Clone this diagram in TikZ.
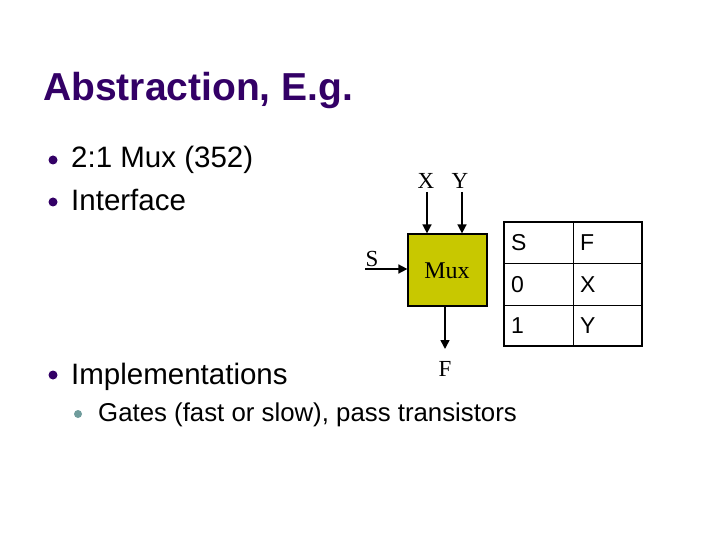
\documentclass[tikz,border=0pt]{standalone}
\usepackage{fontspec}
\setmainfont{Liberation Sans}
\newfontfamily\muxfont{Liberation Serif}
\usetikzlibrary{arrows.meta,positioning}
\definecolor{titlepurple}{HTML}{330066}
\definecolor{muxolive}{HTML}{C8C800}
\definecolor{subteal}{HTML}{6F9C9C}

\begin{document}
\begin{tikzpicture}[x=1pt,y=-1pt,
  bodytext/.style={anchor=base west,inner sep=0pt,font=\fontsize{29.5}{32}\selectfont},
  subtext/.style={anchor=base west,inner sep=0pt,font=\fontsize{25.8}{28}\selectfont},
  sigtext/.style={inner sep=0pt,font=\muxfont\fontsize{23}{25}\selectfont},
  celltext/.style={anchor=base west,inner sep=0pt,font=\fontsize{23}{25}\selectfont},
  sig/.style={-{Triangle[length=9pt,width=9pt]},line width=1.5pt}]
  \useasboundingbox (0,0) rectangle (720,540);
  % title and bullets
  \node[anchor=base west,inner sep=0pt,text=titlepurple,font=\fontsize{39}{42}\selectfont\bfseries] (title) at (43,101){Abstraction, E.g.};
  \fill[titlepurple] (53,160) circle (4.5); \node[bodytext] (mux352) at (71,168){2:1 Mux (352)};
  \fill[titlepurple] (53,202) circle (4.5); \node[bodytext] (iface) at (71,211){Interface};
  \fill[titlepurple] (53,375) circle (4.5); \node[bodytext] (impl) at (71,384){Implementations};
  \fill[subteal] (78,414) circle (4); \node[subtext] (gates) at (98,421){Gates (fast or slow), pass transistors};
  % mux block
  \node[draw,line width=1.2pt,fill=muxolive,minimum width=79pt,minimum height=72pt,inner sep=0pt] (mux) at (447.5,270){};
  \node[sigtext,font=\muxfont\fontsize{24}{26}\selectfont] (muxlbl) at (447,271){Mux};
  \node[sigtext,anchor=base] (xin) at (426,189){X};
  \node[sigtext,anchor=base] (yin) at (460,189){Y};
  \node[sigtext,anchor=base] (sin) at (372,266){S};
  \node[sigtext,anchor=base] (fout) at (445,376){F};
  \coordinate (xtop) at (427,192); \coordinate (ytop) at (462,192);
  \coordinate (sleft) at (365,269); \coordinate (fbot) at (445,349);
  \draw[sig] (xtop) -- (xtop |- mux.north);
  \draw[sig] (ytop) -- (ytop |- mux.north);
  \draw[sig] (sleft) -- (sleft -| mux.west);
  \draw[sig] (fbot |- mux.south) -- (fbot);
  % truth table
  \draw[line width=1.3pt] (504,222) rectangle (642,346);
  \draw[line width=1pt] (573,222) -- (573,346) (504,263) -- (642,263) (504,305) -- (642,305);
  \node[celltext] (hs) at (511,251){S};  \node[celltext] (hf) at (580,251){F};
  \node[celltext] (s0) at (511,292){0};  \node[celltext] (f0) at (580,292){X};
  \node[celltext] (s1) at (511,333){1};  \node[celltext] (f1) at (580,333){Y};
\end{tikzpicture}
\end{document}
